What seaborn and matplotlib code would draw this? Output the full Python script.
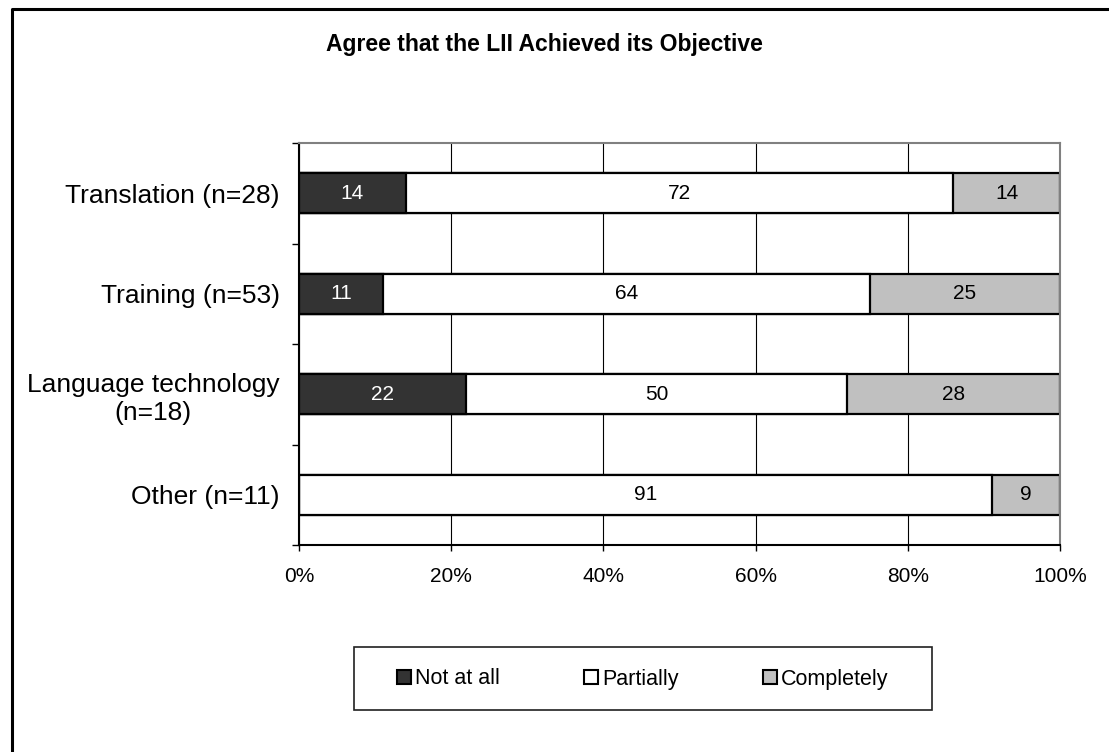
import numpy as np
import pandas as pd
import seaborn as sns
import matplotlib.pyplot as plt
from matplotlib.patches import Patch, Rectangle
from matplotlib.lines import Line2D

# data (percent of respondents)
categories = ["Translation (n=28)", "Training (n=53)", "Language technology\n(n=18)", "Other (n=11)"]
not_at_all = [14, 11, 22, 0]
partially = [72, 64, 50, 91]
completely = [14, 25, 28, 9]
series_names = ["Not at all", "Partially", "Completely"]
colors = ["#333333", "#ffffff", "#c0c0c0"]
x_ticks = [0, 20, 40, 60, 80, 100]
x_tick_labels = ["0%", "20%", "40%", "60%", "80%", "100%"]
title = "Agree that the LII Achieved its Objective"

sns.set_style("white")
plt.rcParams['font.family'] = ['Liberation Sans', 'DejaVu Sans']
plt.rcParams['text.color'] = 'black'
plt.rcParams['xtick.color'] = 'black'
plt.rcParams['ytick.color'] = 'black'

df = pd.DataFrame({"category": categories,
                   "Not at all": not_at_all,
                   "Partially": partially,
                   "Completely": completely})
cum = df[series_names].cumsum(axis=1)

W, H = 1109, 752
fig = plt.figure(figsize=(W / 100, H / 100), dpi=100)
ax = fig.add_axes([299 / W, 1 - 545 / H, 761 / W, 402 / H])

# stacked bars: draw cumulative totals from the widest down
for name, color in reversed(list(zip(series_names, colors))):
    sns.barplot(x=cum[name], y=df["category"], orient="h", color=color,
                saturation=1, edgecolor="black", linewidth=1.6, width=0.4, ax=ax)

# segment labels
for i in range(len(categories)):
    left = 0
    for name in series_names:
        v = df[name][i]
        if v > 0:
            ax.text(left + v / 2, i, str(v), ha="center", va="center", fontsize=15,
                    color="white" if name == "Not at all" else "black")
        left += v

ax.set_xlim(0, 100)
ax.set_ylim(len(categories) - 0.5, -0.5)
ax.set_xlabel("")
ax.set_ylabel("")
ax.set_xticks(x_ticks, labels=x_tick_labels, fontsize=15)
ax.set_yticks(np.arange(-0.5, len(categories) + 0.5, 1), labels=[""] * (len(categories) + 1))
ax.set_yticks(np.arange(len(categories)), labels=categories, minor=True, fontsize=19)
for lbl in ax.get_yticklabels(minor=True):
    lbl.set_multialignment("center")
ax.tick_params(axis="y", which="minor", length=0, pad=14)
ax.tick_params(axis="y", which="major", length=5, width=1, direction="out", left=True)
ax.tick_params(axis="x", length=4.5, width=1, direction="out", bottom=True, pad=11.5)

ax.xaxis.grid(True, color="black", linewidth=0.8)
ax.yaxis.grid(False)
ax.set_axisbelow(True)

for side in ["top", "right"]:
    ax.spines[side].set_color("#808080")
    ax.spines[side].set_linewidth(1.5)
for side in ["left", "bottom"]:
    ax.spines[side].set_color("black")
    ax.spines[side].set_linewidth(1.5)

fig.text(544 / W, 1 - 45 / H, title, ha="center", va="center", fontsize=16.5, fontweight="bold")

# outer frame (only left and top edges visible)
fig.add_artist(Line2D([12 / W, 12 / W, 1], [0, 1 - 9 / H, 1 - 9 / H],
                      transform=fig.transFigure, color="black", linewidth=2.2))

# legend box drawn separately (wide side padding)
fig.add_artist(Rectangle((354 / W, 1 - 710 / H), 578 / W, 63 / H, transform=fig.transFigure,
                         fill=False, edgecolor="#202020", linewidth=1.2))
handles = [Patch(facecolor=c, edgecolor="black", linewidth=1.5, label=n)
           for n, c in zip(series_names, colors)]
fig.legend(handles=handles, loc="center", bbox_to_anchor=(643 / W, 1 - 679 / H),
           ncol=3, frameon=False, fontsize=15.5, handlelength=0.65, handleheight=0.65,
           handletextpad=0.2, columnspacing=3.9, borderpad=0, borderaxespad=0)

fig.savefig("out.png", dpi=100)
